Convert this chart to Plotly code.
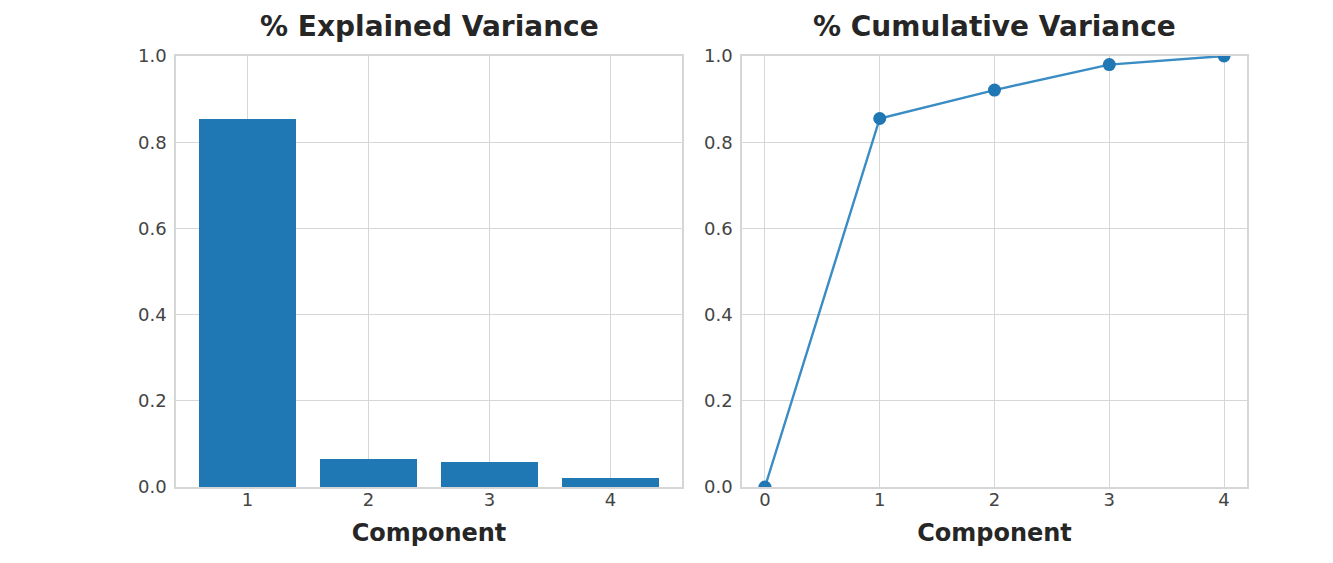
import numpy as np
import plotly.graph_objects as go
from plotly.subplots import make_subplots

components = [1, 2, 3, 4]
explained_variance = [0.855, 0.066, 0.059, 0.020]
cumulative_x = [0, 1, 2, 3, 4]
cumulative_variance = [0.0] + list(np.cumsum(explained_variance))
y_ticks = [0.0, 0.2, 0.4, 0.6, 0.8, 1.0]
titles = ["% Explained Variance", "% Cumulative Variance"]

W, H = 1333, 563
OFF = 8  # page body offset
fig = make_subplots(rows=1, cols=2)

fig.add_trace(go.Bar(x=components, y=explained_variance, width=0.8,
                     marker=dict(color="#1f77b4", line=dict(width=0)),
                     showlegend=False), row=1, col=1)
fig.add_trace(go.Scatter(x=cumulative_x, y=cumulative_variance, mode="lines+markers",
                         line=dict(color="#3a8cc4", width=2.4),
                         marker=dict(color="#1f77b4", size=13),
                         showlegend=False), row=1, col=2)

grid = "#d6d6d6"
tickfont = dict(family="DejaVu Sans", size=18, color="#444444")
axis_common = dict(showgrid=True, gridcolor=grid, gridwidth=1, showline=True,
                   linecolor=grid, linewidth=1.5, mirror=True, ticks="",
                   zeroline=False, tickfont=tickfont)
xtitle_font = dict(family="DejaVu Sans", size=24, color="#262626")

fig.update_xaxes(**axis_common, ticklabelstandoff=-4)
fig.update_yaxes(**axis_common, ticklabelstandoff=4)

fig.update_layout(
    width=W, height=H,
    margin=dict(l=0, r=0, t=56 - OFF, b=H - 487 + OFF),
    paper_bgcolor="white", plot_bgcolor="white",
    xaxis=dict(domain=[(176 - OFF) / W, (682 - OFF) / W], range=[0.41, 4.59], tickvals=components,
               title=dict(text="<b>Component</b>", font=xtitle_font, standoff=15)),
    xaxis2=dict(domain=[(742 - OFF) / W, (1247 - OFF) / W], range=[-0.2, 4.2], tickvals=cumulative_x,
                title=dict(text="<b>Component</b>", font=xtitle_font, standoff=15)),
    yaxis=dict(domain=[0, 1], range=[0, 1], tickvals=y_ticks, tickformat=".1f"),
    yaxis2=dict(domain=[0, 1], range=[0, 1], tickvals=y_ticks, tickformat=".1f"),
    bargap=0,
)

for i, t in enumerate(titles):
    xd = fig.layout["xaxis" if i == 0 else "xaxis2"].domain
    fig.add_annotation(text="<b>" + t + "</b>", x=(xd[0] + xd[1]) / 2, y=1, xref="paper", yref="paper",
                       yanchor="bottom", xanchor="center", yshift=11, showarrow=False,
                       font=dict(family="DejaVu Sans", size=28, color="#262626"))

fig.write_html("out.html")
